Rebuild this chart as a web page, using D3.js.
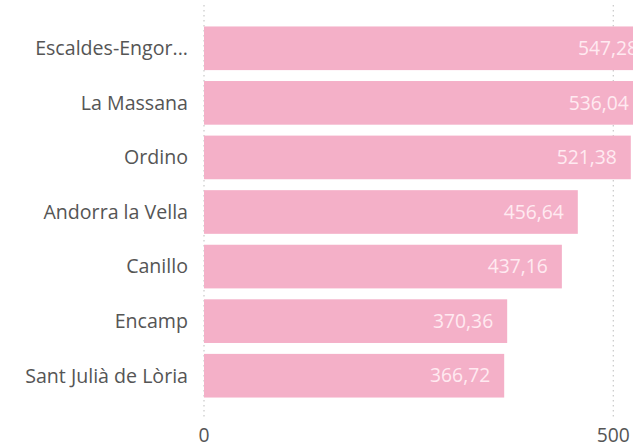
<!DOCTYPE html>
<html><head><meta charset="utf-8">
<script src="https://cdn.jsdelivr.net/npm/d3@7"></script>
<style>html,body{margin:0;padding:0;background:#fff;overflow:hidden}svg{display:block}</style>
</head><body>
<script>
const categories = ["Escaldes-Engor...", "La Massana", "Ordino", "Andorra la Vella", "Canillo", "Encamp", "Sant Julià de Lòria"];
const values = [547.28, 536.04, 521.38, 456.64, 437.16, 370.36, 366.72];
const valueLabels = ["547,28", "536,04", "521,38", "456,64", "437,16", "370,36", "366,72"];
const tickValues = [0, 500];
const tickLabels = ["0", "500"];

const W = 633, H = 443;
const font = "'Open Sans', 'Noto Sans', sans-serif";
const svg = d3.select("body").append("svg").attr("width", W).attr("height", H);

const x = d3.scaleLinear().domain([0, 500]).range([204, 613.3]);
const y = d3.scaleBand().domain(categories).range([21, 403]).paddingInner(0.2).paddingOuter(0.1);

// gridlines
svg.append("g").selectAll("line").data(tickValues).join("line")
  .attr("x1", d => x(d)).attr("x2", d => x(d))
  .attr("y1", 5).attr("y2", 418)
  .attr("stroke", "#c8c8c8").attr("stroke-width", 1.2)
  .attr("stroke-dasharray", "1.5,3.5");

// bars
svg.append("g").selectAll("rect").data(values).join("rect")
  .attr("x", x(0)).attr("y", (d, i) => y(categories[i]))
  .attr("width", d => x(d) - x(0)).attr("height", y.bandwidth())
  .attr("fill", "#F4B0C8");

// value labels
svg.append("g").selectAll("text").data(values).join("text")
  .attr("x", d => x(d) - 14).attr("y", (d, i) => y(categories[i]) + y.bandwidth() / 2)
  .attr("dy", "0.35em").attr("text-anchor", "end")
  .attr("font-family", font).attr("font-size", 19.3)
  .attr("fill", "#FFEAF1")
  .text((d, i) => valueLabels[i]);

// category labels
svg.append("g").selectAll("text").data(categories).join("text")
  .attr("x", 188).attr("y", d => y(d) + y.bandwidth() / 2)
  .attr("dy", "0.35em").attr("text-anchor", "end")
  .attr("font-family", font).attr("font-size", 19.6)
  .attr("fill", "#555555")
  .text(d => d);

// x tick labels
svg.append("g").selectAll("text").data(tickValues).join("text")
  .attr("x", d => x(d)).attr("y", 442)
  .attr("text-anchor", "middle")
  .attr("font-family", font).attr("font-size", 19.3)
  .attr("fill", "#555555")
  .text((d, i) => tickLabels[i]);
</script>
</body></html>
